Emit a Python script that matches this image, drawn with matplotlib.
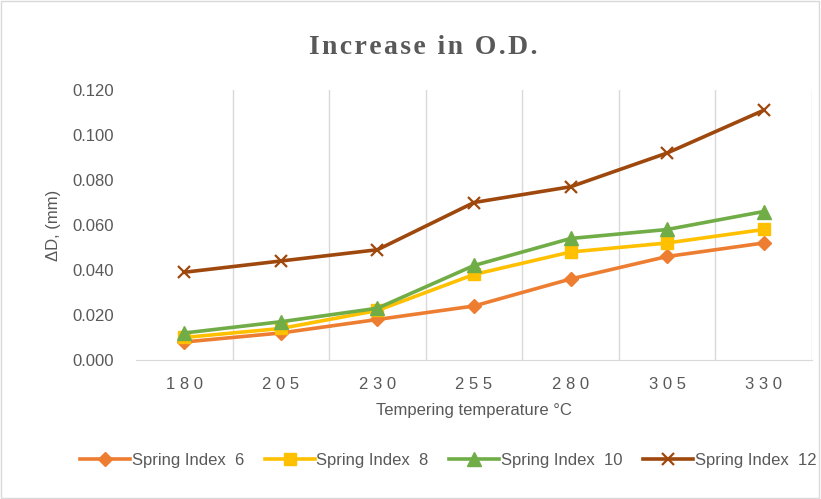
import matplotlib.pyplot as plt
from matplotlib.patches import Rectangle

# Tempering temperatures (categories)
temps = [180, 205, 230, 255, 280, 305, 330]

# Increase in O.D. (mm) for each spring index
si_6 = [0.008, 0.012, 0.018, 0.024, 0.036, 0.046, 0.052]
si_8 = [0.010, 0.014, 0.022, 0.038, 0.048, 0.052, 0.058]
si_10 = [0.012, 0.017, 0.023, 0.042, 0.054, 0.058, 0.066]
si_12 = [0.039, 0.044, 0.049, 0.070, 0.077, 0.092, 0.111]

labels = ["Spring Index  6", "Spring Index  8", "Spring Index  10", "Spring Index  12"]

plt.rcParams['font.family'] = ['Liberation Sans', 'DejaVu Sans']

fig = plt.figure(figsize=(8.21, 4.99), dpi=100)
ax = fig.add_axes([0.1657, 0.2786, 0.8233, 0.541])

x = list(range(len(temps)))
ax.plot(x, si_6, color='#ED7D31', lw=2.6, marker='D', ms=7, label=labels[0])
ax.plot(x, si_8, color='#FFC000', lw=2.6, marker='s', ms=9, label=labels[1])
ax.plot(x, si_10, color='#70AD47', lw=2.6, marker='^', ms=10, label=labels[2])
ax.plot(x, si_12, color='#9E480E', lw=2.6, marker='x', ms=9, mew=1.6, label=labels[3])

ax.set_xlim(-0.5, len(temps) - 0.5)
ax.set_ylim(0, 0.12)
ax.set_yticks([0.0, 0.02, 0.04, 0.06, 0.08, 0.10, 0.12])
ax.set_yticklabels([f"{v:.3f}" for v in ax.get_yticks()])
ax.set_xticks(x)
ax.set_xticklabels([" ".join(str(t)) for t in temps])

# vertical gridlines between categories
for b in range(1, len(temps) + 1):
    ax.axvline(b - 0.5, color='#D9D9D9', lw=1, zorder=0)

for s in ['top', 'right', 'left']:
    ax.spines[s].set_visible(False)
ax.spines['bottom'].set_color('#D9D9D9')
ax.tick_params(length=0, labelsize=12, colors='#595959')
ax.tick_params(axis='x', pad=12)
ax.tick_params(axis='y', pad=16)

ax.set_xlabel("Tempering temperature °C", fontsize=12, color='#595959', labelpad=8)
ax.set_ylabel("ΔD, (mm)", fontsize=12, color='#595959', labelpad=8)

title = "Increase in O.D."
fig.text(0.515, 0.905, "\u200a".join(title), ha='center', va='center',
         fontsize=20, fontweight='bold', color='#595959',
         family=['Liberation Serif', 'DejaVu Serif'])

fig.legend(loc='center', bbox_to_anchor=(0.546, 0.078), ncol=4, frameon=False,
           fontsize=12, handlelength=3, handletextpad=0.1, columnspacing=1.25,
           labelcolor='#595959')

fig.patches.append(Rectangle((0.001, 0.002), 0.997, 0.996, transform=fig.transFigure,
                             fill=False, edgecolor='#D9D9D9', lw=1))

fig.savefig("out.png", dpi=100)
